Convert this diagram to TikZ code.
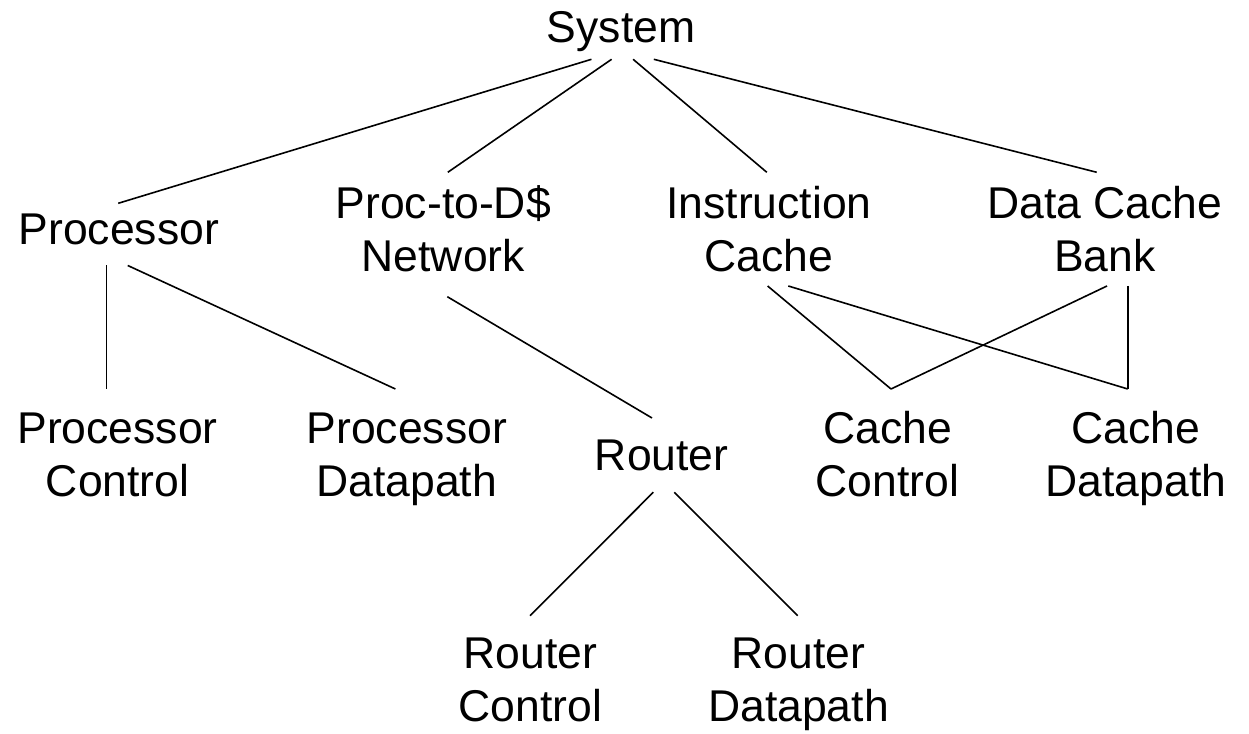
\documentclass[tikz,border=0pt]{standalone}
\usepackage{fontspec}
\setmainfont{Liberation Sans}
\begin{document}
\begin{tikzpicture}[x=1pt,y=1pt,
  lbl/.style={anchor=base,inner sep=0pt,align=center,
    font=\fontsize{44.5}{53}\selectfont},
  link/.style={line width=1.6pt}]
\useasboundingbox (0,0) rectangle (1249,733);
% tree nodes, placed by the baseline of their last line
\node[lbl] (sys)  at (621,690)     {System};
\node[lbl] (proc) at (118.75,488)  {Processor};
\node[lbl] (net)  at (443.3,461.7) {Proc-to-D\$\\Network};
\node[lbl] (ic)   at (769,461.7)   {Instruction\\Cache};
\node[lbl] (dcb)  at (1105,461.7)  {Data Cache\\Bank};
\node[lbl] (pc)   at (117.6,236.7) {Processor\\Control};
\node[lbl] (pd)   at (406.8,236.7) {Processor\\Datapath};
\node[lbl] (rt)   at (661.7,262.3) {Router};
\node[lbl] (cc)   at (887.5,236.7) {Cache\\Control};
\node[lbl] (cd)   at (1136,236.7)  {Cache\\Datapath};
\node[lbl] (rc)   at (530.5,11.7)  {Router\\Control};
\node[lbl] (rd)   at (798.5,11.7)  {Router\\Datapath};
% hierarchy links
\draw[link] ([shift={(-29.5,-16.3)}]sys.base) -- ([shift={(-0.5,41.7)}]proc.base);
\draw[link] ([shift={(-9.4,-16.3)}]sys.base)  -- ([shift={(4.5,99)}]net.base);
\draw[link] ([shift={(12.1,-16.3)}]sys.base)  -- ([shift={(-2.2,99)}]ic.base);
\draw[link] ([shift={(32.8,-16.3)}]sys.base)  -- ([shift={(-8.3,99)}]dcb.base);
\draw[link] ([shift={(-12.25,-20.5)}]proc.base) -- ([shift={(-11.1,107.3)}]pc.base);
\draw[link] ([shift={(9,-20.5)}]proc.base)      -- ([shift={(-11.4,107.3)}]pd.base);
\draw[link] ([shift={(4,-25.4)}]net.base)   -- ([shift={(-9.7,52.7)}]rt.base);
\draw[link] ([shift={(-8.4,-21.6)}]rt.base) -- ([shift={(-0.5,105.6)}]rc.base);
\draw[link] ([shift={(12.6,-21.6)}]rt.base) -- ([shift={(-0.8,105.6)}]rd.base);
\draw[link] ([shift={(-1.4,-14.7)}]ic.base) -- ([shift={(3.5,107.3)}]cc.base);
\draw[link] ([shift={(19.3,-14.7)}]ic.base) -- ([shift={(-8.3,107.3)}]cd.base);
\draw[link] ([shift={(2,-14.7)}]dcb.base)   -- ([shift={(3.5,107.3)}]cc.base);
\draw[link] ([shift={(22.7,-14.7)}]dcb.base) -- ([shift={(-8.3,107.3)}]cd.base);
\end{tikzpicture}
\end{document}
